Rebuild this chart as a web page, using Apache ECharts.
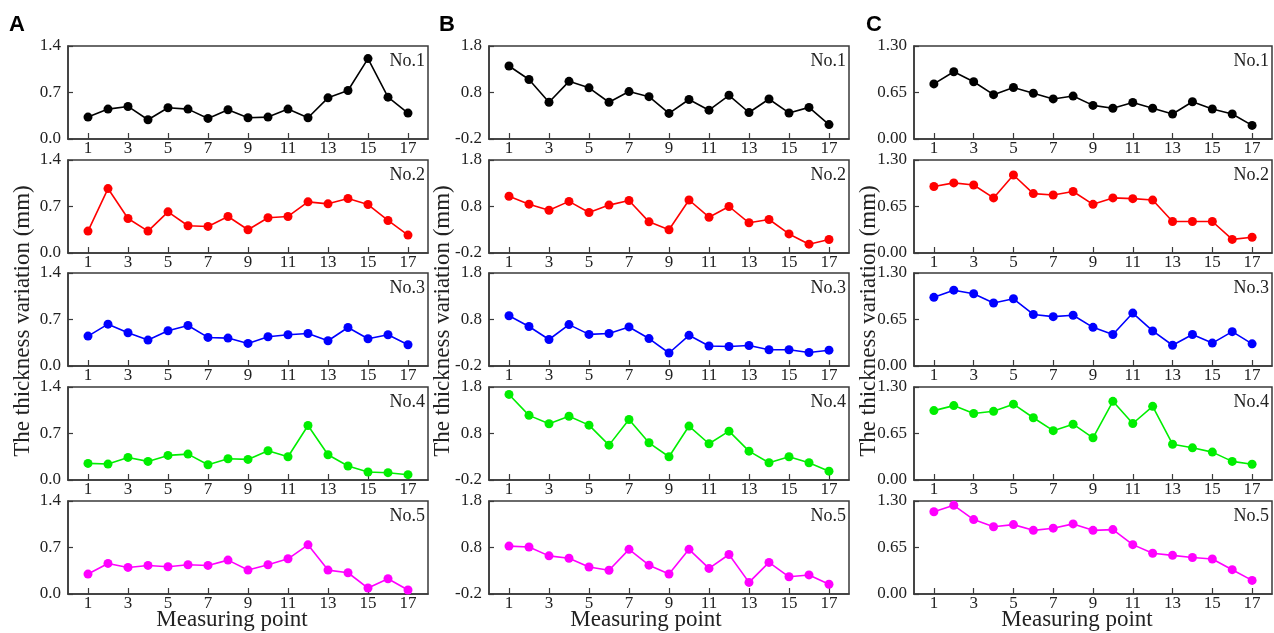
<!DOCTYPE html>
<html>
<head>
<meta charset="utf-8">
<script src="https://cdn.jsdelivr.net/npm/echarts@6/dist/echarts.min.js"></script>
<style>html,body{margin:0;padding:0;background:#fff}#c{width:1274px;height:633px}</style>
</head>
<body>
<div id="c"></div>
<script>
// Measuring points and tick labels
const points = [1,2,3,4,5,6,7,8,9,10,11,12,13,14,15,16,17];
const xTicks = [1,3,5,7,9,11,13,15,17];
const yTicksA = [0, 0.7, 1.4];
const yTicksB = [-0.2, 0.8, 1.8];
const yTicksC = [0, 0.65, 1.3];
const panelNames = ['No.1','No.2','No.3','No.4','No.5'];
const columnLetters = ['A','B','C'];

// Column A
const a1 = [0.33,0.45,0.49,0.29,0.47,0.45,0.31,0.44,0.32,0.33,0.45,0.32,0.62,0.73,1.21,0.63,0.39];
const a2 = [0.33,0.97,0.52,0.33,0.62,0.41,0.40,0.55,0.35,0.53,0.55,0.77,0.74,0.82,0.73,0.49,0.27];
const a3 = [0.45,0.63,0.50,0.39,0.53,0.61,0.43,0.42,0.34,0.44,0.47,0.49,0.38,0.58,0.41,0.47,0.32];
const a4 = [0.25,0.24,0.34,0.28,0.37,0.39,0.23,0.32,0.31,0.44,0.35,0.82,0.38,0.21,0.12,0.11,0.08];
const a5 = [0.30,0.46,0.40,0.43,0.41,0.44,0.43,0.51,0.36,0.44,0.53,0.74,0.36,0.32,0.09,0.23,0.06];
// Column B
const b1 = [1.37,1.08,0.59,1.04,0.90,0.59,0.82,0.71,0.35,0.65,0.42,0.74,0.37,0.66,0.36,0.48,0.11];
const b2 = [1.02,0.85,0.72,0.91,0.67,0.83,0.93,0.47,0.30,0.94,0.57,0.80,0.45,0.52,0.21,-0.01,0.09];
const b3 = [0.88,0.65,0.37,0.69,0.48,0.50,0.64,0.39,0.08,0.46,0.23,0.22,0.24,0.15,0.15,0.09,0.14];
const b4 = [1.64,1.19,1.01,1.17,0.98,0.55,1.10,0.60,0.30,0.96,0.58,0.85,0.42,0.17,0.30,0.17,-0.01];
const b5 = [0.83,0.81,0.62,0.57,0.38,0.31,0.76,0.42,0.23,0.76,0.35,0.65,0.05,0.48,0.17,0.21,0.01];
// Column C
const c1 = [0.77,0.94,0.80,0.62,0.72,0.64,0.56,0.60,0.47,0.43,0.51,0.43,0.35,0.52,0.42,0.35,0.19];
const c2 = [0.93,0.98,0.95,0.77,1.09,0.83,0.81,0.86,0.68,0.77,0.76,0.74,0.44,0.44,0.44,0.19,0.22];
const c3 = [0.96,1.06,1.01,0.88,0.94,0.72,0.69,0.71,0.54,0.44,0.74,0.49,0.29,0.44,0.32,0.48,0.31];
const c4 = [0.97,1.04,0.93,0.96,1.06,0.87,0.69,0.78,0.59,1.10,0.79,1.03,0.50,0.45,0.39,0.26,0.22];
const c5 = [1.15,1.24,1.04,0.94,0.97,0.89,0.92,0.98,0.89,0.90,0.69,0.57,0.54,0.51,0.49,0.34,0.19];

const columns = [
  {series:[a1,a2,a3,a4,a5], ticks:yTicksA, dec:1},
  {series:[b1,b2,b3,b4,b5], ticks:yTicksB, dec:1},
  {series:[c1,c2,c3,c4,c5], ticks:yTicksC, dec:2}
];
const colors = ['#000000','#ff0000','#0000ff','#00ee00','#ff00ff'];

// layout
const colLeft = [68, 489, 914];
const colWidth = [360, 360, 358];
const rowTop = [46, 160, 273, 387, 501];
const rowH = 93;
const serif = '"Liberation Serif","Times New Roman",serif';
const axisCol = '#3a3a3a';

const grid = [], xAxis = [], yAxis = [], series = [], graphic = [];
columns.forEach((col, ci) => {
  col.series.forEach((vals, ri) => {
    const idx = grid.length;
    grid.push({left: colLeft[ci], top: rowTop[ri], width: colWidth[ci], height: rowH,
      show: true, borderColor: axisCol, borderWidth: 1.5, backgroundColor: 'transparent'});
    xAxis.push({type:'value', gridIndex: idx, min: 0, max: 18, position:'bottom',
      axisLine:{show:true, onZero:false, lineStyle:{color:axisCol, width:1.5}},
      axisTick:{show:true, inside:true, length:6, customValues: xTicks, lineStyle:{color:axisCol, width:1.2}},
      axisLabel:{show:true, margin:1, customValues: xTicks, color:'#222', fontFamily: serif, fontSize:17},
      splitLine:{show:false}});
    yAxis.push({type:'value', gridIndex: idx, min: col.ticks[0], max: col.ticks[2], position:'left',
      axisLine:{show:true, onZero:false, lineStyle:{color:axisCol, width:1.5}},
      axisTick:{show:true, inside:true, length:5, customValues: col.ticks, lineStyle:{color:axisCol, width:1.2}},
      axisLabel:{show:true, margin:7, customValues: col.ticks, color:'#222', fontFamily: serif, fontSize:17,
        formatter: v => Number(v).toFixed(col.dec)},
      splitLine:{show:false}});
    series.push({type:'line', xAxisIndex: idx, yAxisIndex: idx,
      data: vals.map((v, i) => [points[i], v]),
      symbol:'circle', symbolSize: 9, showSymbol: true,
      lineStyle:{color: colors[ri], width: 1.6},
      itemStyle:{color: colors[ri]}, z: 5});
    graphic.push({type:'text', x: colLeft[ci] + colWidth[ci] - 3, y: rowTop[ri] + 6,
      style:{text: panelNames[ri], font: '18px ' + serif, fill:'#222', align:'right', verticalAlign:'top'}});
  });
  // column letter
  graphic.push({type:'text', x: [9, 439, 866][ci], y: 25,
    style:{text: columnLetters[ci], font: 'bold 22px "Liberation Sans", Arial, sans-serif', fill:'#000', align:'left', verticalAlign:'middle'}});
  // y title
  graphic.push({type:'text', x: [23, 443, 869][ci], y: 321, rotation: Math.PI/2,
    style:{text: 'The thickness variation (mm)', font: '23px ' + serif, fill:'#222', align:'center', verticalAlign:'middle'}});
  // x title
  graphic.push({type:'text', x: [232, 646, 1077][ci], y: 620,
    style:{text: 'Measuring point', font: '23px ' + serif, fill:'#222', align:'center', verticalAlign:'middle'}});
});

const chart = echarts.init(document.getElementById('c'), null, {renderer:'canvas'});
chart.setOption({animation:false, backgroundColor:'#fff', grid, xAxis, yAxis, series, graphic});
</script>
</body>
</html>
